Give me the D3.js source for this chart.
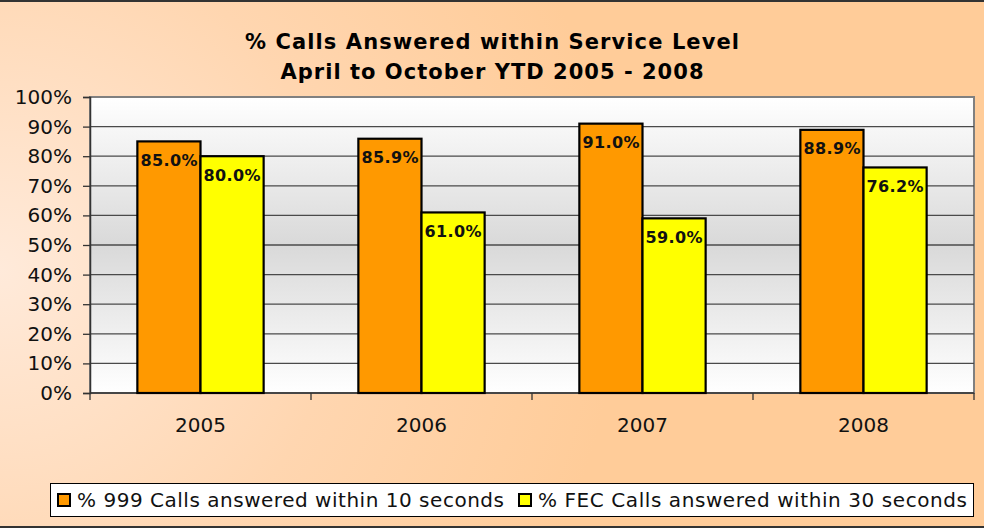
<!DOCTYPE html>
<html>
<head>
<meta charset="utf-8">
<script src="https://cdn.jsdelivr.net/npm/d3@7/dist/d3.min.js"></script>
<style>
  html, body { margin: 0; padding: 0; background: #fff; }
  svg { display: block; font-family: "DejaVu Sans", Verdana, sans-serif; }
</style>
</head>
<body>
<svg id="chart" width="984" height="528"></svg>
<script>
// Service level data, April–October YTD
const years = ["2005", "2006", "2007", "2008"];
const seriesNames = [
  "% 999 Calls answered within 10 seconds",
  "% FEC Calls answered within 30 seconds"
];
const calls999 = [0.850, 0.859, 0.910, 0.889];
const callsFEC = [0.800, 0.610, 0.590, 0.762];
const yTicks = [0, 0.1, 0.2, 0.3, 0.4, 0.5, 0.6, 0.7, 0.8, 0.9, 1.0];
const titleLines = ["% Calls Answered within Service Level", "April to October YTD 2005 - 2008"];

const seriesValues = [calls999, callsFEC];
const seriesColors = ["#FF9900", "#FFFF00"];

const W = 984, H = 528;
const plot = { left: 90, right: 974, top: 97, bottom: 393 };

const svg = d3.select("#chart");
const defs = svg.append("defs");

// Chart background: soft radial peach wash
const bg = defs.append("radialGradient")
  .attr("id", "bgGrad").attr("gradientUnits", "userSpaceOnUse")
  .attr("cx", 0).attr("cy", 270).attr("r", 620).attr("fx", 0).attr("fy", 270);
bg.append("stop").attr("offset", 0).attr("stop-color", "#FFEADA");
bg.append("stop").attr("offset", 0.55).attr("stop-color", "#FFD6B0");
bg.append("stop").attr("offset", 1).attr("stop-color", "#FFCC99");

// Plot area: white → grey → white vertical fill
const pg = defs.append("linearGradient")
  .attr("id", "plotGrad").attr("x1", 0).attr("y1", 0).attr("x2", 0).attr("y2", 1);
pg.append("stop").attr("offset", 0).attr("stop-color", "#FFFFFF");
pg.append("stop").attr("offset", 0.5).attr("stop-color", "#D9D9D9");
pg.append("stop").attr("offset", 1).attr("stop-color", "#FFFFFF");

svg.append("rect").attr("width", W).attr("height", H).attr("fill", "url(#bgGrad)");
svg.append("line").attr("x1", 0).attr("x2", W).attr("y1", 1).attr("y2", 1)
  .attr("stroke", "#333").attr("stroke-width", 2);
svg.append("line").attr("x1", 0).attr("x2", W).attr("y1", 527).attr("y2", 527)
  .attr("stroke", "#333").attr("stroke-width", 2);

// Scales
const x0 = d3.scaleBand().domain(years).range([plot.left, plot.right]);
const x1 = d3.scaleBand().domain(d3.range(seriesValues.length))
  .range([0, x0.bandwidth()]).paddingInner(0).paddingOuter(0.75);
const y = d3.scaleLinear().domain([0, 1]).range([plot.bottom, plot.top]);

// Plot area
svg.append("rect")
  .attr("x", plot.left).attr("y", plot.top)
  .attr("width", plot.right - plot.left).attr("height", plot.bottom - plot.top)
  .attr("fill", "url(#plotGrad)").attr("stroke", "#808080").attr("stroke-width", 2);

// Gridlines
svg.append("g").selectAll("line")
  .data(yTicks.filter(t => t > 0 && t < 1))
  .join("line")
  .attr("x1", plot.left).attr("x2", plot.right)
  .attr("y1", d => y(d)).attr("y2", d => y(d))
  .attr("stroke", "#4a4a4a").attr("stroke-width", 1.3);

// Y axis
const yAxis = svg.append("g")
  .attr("transform", `translate(${plot.left},0)`)
  .call(d3.axisLeft(y).tickValues(yTicks).tickFormat(d3.format(".0%")).tickSize(7).tickPadding(11));
yAxis.select(".domain").attr("stroke", "#333").attr("stroke-width", 1.5);
yAxis.selectAll(".tick line").attr("stroke", "#333").attr("stroke-width", 1.3);
yAxis.selectAll(".tick text")
  .attr("font-family", "DejaVu Sans, Verdana, sans-serif")
  .attr("font-size", 20).attr("fill", "#111");

// X axis: boundary ticks + centered category labels
const xBounds = years.map(d => x0(d)).concat([x0(years[years.length - 1]) + x0.bandwidth()]);
svg.append("line").attr("x1", plot.left).attr("x2", plot.right)
  .attr("y1", plot.bottom).attr("y2", plot.bottom)
  .attr("stroke", "#333").attr("stroke-width", 1.5);
svg.append("g").selectAll("line").data(xBounds).join("line")
  .attr("x1", d => d).attr("x2", d => d)
  .attr("y1", plot.bottom).attr("y2", plot.bottom + 7)
  .attr("stroke", "#333").attr("stroke-width", 1.3);
svg.append("g").selectAll("text").data(years).join("text")
  .attr("x", d => x0(d) + x0.bandwidth() / 2)
  .attr("y", 432)
  .attr("text-anchor", "middle")
  .attr("font-size", 20).attr("fill", "#111")
  .text(d => d);

// Bars
const groups = svg.append("g").selectAll("g").data(years).join("g")
  .attr("transform", d => `translate(${x0(d)},0)`);

groups.selectAll("rect")
  .data((d, i) => seriesValues.map((vals, s) => ({ s, v: vals[i] })))
  .join("rect")
  .attr("x", d => x1(d.s))
  .attr("y", d => y(d.v))
  .attr("width", x1.bandwidth())
  .attr("height", d => y(0) - y(d.v))
  .attr("fill", d => seriesColors[d.s])
  .attr("stroke", "#000").attr("stroke-width", 2.2);

// Value labels inside bar tops
groups.selectAll("text")
  .data((d, i) => seriesValues.map((vals, s) => ({ s, v: vals[i] })))
  .join("text")
  .attr("x", d => x1(d.s) + x1.bandwidth() / 2)
  .attr("y", d => y(d.v) + 24.5)
  .attr("text-anchor", "middle")
  .attr("font-size", 16).attr("font-weight", "bold").attr("fill", "#111")
  .attr("textLength", 57).attr("lengthAdjust", "spacing")
  .text(d => d3.format(".1%")(d.v));

// Title
const titleWidths = [494, 423];
svg.append("g").selectAll("text").data(titleLines).join("text")
  .attr("x", 492).attr("y", (d, i) => 49 + i * 30)
  .attr("text-anchor", "middle")
  .attr("font-size", 21).attr("font-weight", "bold").attr("fill", "#000")
  .attr("textLength", (d, i) => titleWidths[i]).attr("lengthAdjust", "spacing")
  .text(d => d);

// Legend
const legend = svg.append("g");
legend.append("rect").attr("x", 50.5).attr("y", 483.5).attr("width", 923).attr("height", 33)
  .attr("fill", "#fff").attr("stroke", "#000").attr("stroke-width", 1);
const legendX = [57, 518];
const legendWidths = [427, 429];
const items = legend.selectAll("g.item").data(seriesNames).join("g").attr("class", "item")
  .attr("transform", (d, i) => `translate(${legendX[i]},0)`);
items.append("rect").attr("x", 1).attr("y", 494).attr("width", 12).attr("height", 12)
  .attr("fill", (d, i) => seriesColors[i]).attr("stroke", "#000").attr("stroke-width", 2);
items.append("text").attr("x", 20).attr("y", 507)
  .attr("font-size", 20).attr("fill", "#111")
  .attr("textLength", (d, i) => legendWidths[i]).attr("lengthAdjust", "spacing")
  .text(d => d);
</script>
</body>
</html>
